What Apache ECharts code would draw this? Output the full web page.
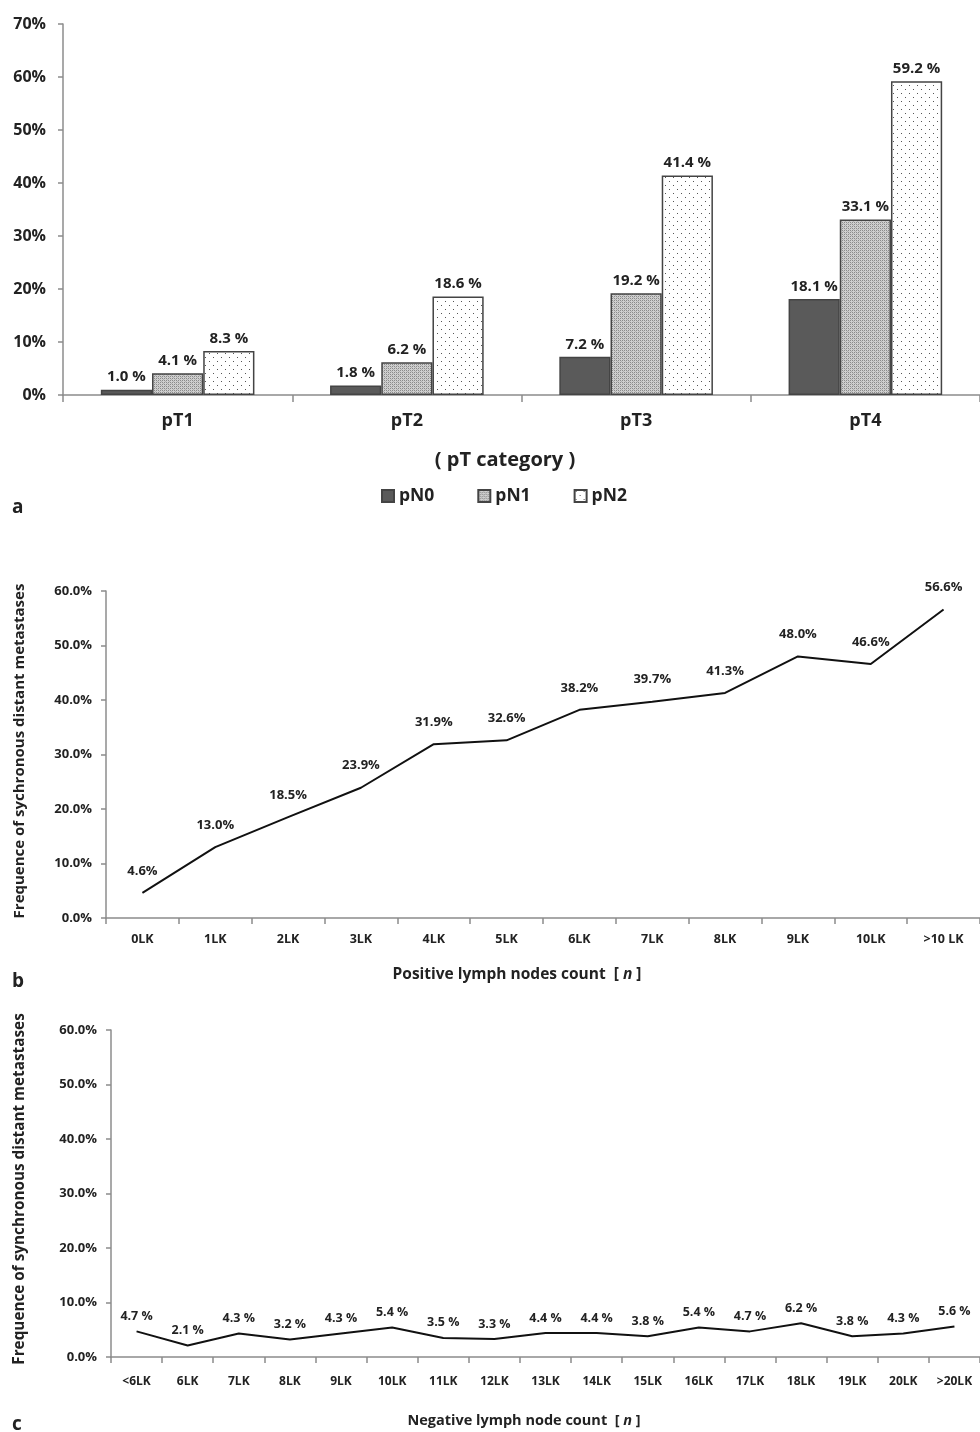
<!DOCTYPE html>
<html><head><meta charset="utf-8">
<script src="https://cdn.jsdelivr.net/npm/echarts@6/dist/echarts.min.js"></script>
<style>html,body{margin:0;padding:0;background:#fff}#c{width:980px;height:1432px}</style>
</head><body><div id="c"></div>
<script>
// ---- data ----
const catsA = ['pT1', 'pT2', 'pT3', 'pT4'];
const pN0 = [1.0, 1.8, 7.2, 18.1];
const pN1 = [4.1, 6.2, 19.2, 33.1];
const pN2 = [8.3, 18.6, 41.4, 59.2];
const ticksA = [0, 10, 20, 30, 40, 50, 60, 70];

const catsB = ['0LK', '1LK', '2LK', '3LK', '4LK', '5LK', '6LK', '7LK', '8LK', '9LK', '10LK', '>10 LK'];
const valsB = [4.6, 13.0, 18.5, 23.9, 31.9, 32.6, 38.2, 39.7, 41.3, 48.0, 46.6, 56.6];

const catsC = ['<6LK', '6LK', '7LK', '8LK', '9LK', '10LK', '11LK', '12LK', '13LK', '14LK', '15LK', '16LK', '17LK', '18LK', '19LK', '20LK', '>20LK'];
const valsC = [4.7, 2.1, 4.3, 3.2, 4.3, 5.4, 3.5, 3.3, 4.4, 4.4, 3.8, 5.4, 4.7, 6.2, 3.8, 4.3, 5.6];

// ---- patterns ----
function patN1() {
  const c = document.createElement('canvas'); c.width = 4; c.height = 4;
  const g = c.getContext('2d');
  g.fillStyle = '#cfcfcf'; g.fillRect(0, 0, 4, 4);
  g.fillStyle = '#8a8a8a';
  g.fillRect(0, 0, 1, 1); g.fillRect(2, 2, 1, 1); g.fillRect(2, 0, 1, 1); g.fillRect(0, 2, 1, 1);
  g.fillStyle = '#b0b0b0'; g.fillRect(1, 1, 1, 1); g.fillRect(3, 3, 1, 1);
  return c;
}
function patN2() {
  const c = document.createElement('canvas'); c.width = 8; c.height = 8;
  const g = c.getContext('2d');
  g.fillStyle = '#ffffff'; g.fillRect(0, 0, 8, 8);
  g.fillStyle = '#555555';
  g.fillRect(1, 1, 1, 1); g.fillRect(5, 5, 1, 1);
  return c;
}

const FONT = '"Open Sans", "Noto Sans", sans-serif';
const TXT = '#222';
const AX = '#8c8c8c';

const chart = echarts.init(document.getElementById('c'), null, {renderer: 'canvas'});

function barSeries(name, data, color) {
  return {
    name, type: 'bar', xAxisIndex: 0, yAxisIndex: 0, data,
    barGap: '0%', barCategoryGap: '33%',
    itemStyle: {color, borderColor: '#444', borderWidth: 1.5},
    label: {show: true, position: 'top', distance: 5, fontFamily: FONT, fontWeight: 'bold', fontSize: 15, color: TXT,
      formatter: p => p.value.toFixed(1) + ' %'}
  };
}

const axisLine = {show: true, lineStyle: {color: AX, width: 1.5}};
const hidden = {color: 'rgba(0,0,0,0)', borderWidth: 0};

chart.setOption({
  animation: false,
  textStyle: {fontFamily: FONT},
  grid: [
    {left: 63, top: 24, width: 917, height: 371},
    {left: 106, top: 591, width: 874, height: 327},
    {left: 111, top: 1030, width: 869, height: 327}
  ],
  xAxis: [
    {gridIndex: 0, type: 'category', data: catsA, axisLine, axisTick: {show: true, length: 7, lineStyle: {color: AX, width: 1.5}},
      axisLabel: {margin: 17, fontFamily: FONT, fontWeight: 'bold', fontSize: 18, color: TXT}},
    {gridIndex: 1, type: 'category', data: catsB, axisLine, axisTick: {show: true, length: 6, lineStyle: {color: AX, width: 1.5}},
      axisLabel: {margin: 15, fontFamily: FONT, fontWeight: 'bold', fontSize: 12.5, color: TXT}},
    {gridIndex: 2, type: 'category', data: catsC, axisLine, axisTick: {show: true, length: 6, lineStyle: {color: AX, width: 1.5}},
      axisLabel: {margin: 19, fontFamily: FONT, fontWeight: 'bold', fontSize: 12, color: TXT, interval: 0}}
  ],
  yAxis: [
    {gridIndex: 0, type: 'value', min: ticksA[0], max: ticksA[ticksA.length - 1], interval: 10, axisLine,
      axisTick: {show: true, length: 5, lineStyle: {color: AX, width: 1.5}}, splitLine: {show: false},
      axisLabel: {margin: 17, fontFamily: FONT, fontWeight: 'bold', fontSize: 16, color: TXT, formatter: v => v + '%'}},
    {gridIndex: 1, type: 'value', min: 0, max: 60, interval: 10, axisLine,
      axisTick: {show: true, length: 5, lineStyle: {color: AX, width: 1.5}}, splitLine: {show: false},
      axisLabel: {margin: 14, fontFamily: FONT, fontWeight: 'bold', fontSize: 13, color: TXT, formatter: v => v.toFixed(1) + '%'}},
    {gridIndex: 2, type: 'value', min: 0, max: 60, interval: 10, axisLine,
      axisTick: {show: true, length: 5, lineStyle: {color: AX, width: 1.5}}, splitLine: {show: false},
      axisLabel: {margin: 14, fontFamily: FONT, fontWeight: 'bold', fontSize: 13, color: TXT, formatter: v => v.toFixed(1) + '%'}}
  ],
  legend: {
    data: ['pN0', 'pN1', 'pN2'], left: 376, top: 482, icon: 'rect', itemWidth: 12, itemHeight: 12, itemGap: 43,
    textStyle: {fontFamily: FONT, fontWeight: 'bold', fontSize: 17.5, color: TXT}
  },
  series: [
    barSeries('pN0', pN0, '#5a5a5a'),
    barSeries('pN1', pN1, {image: patN1(), repeat: 'repeat'}),
    barSeries('pN2', pN2, {image: patN2(), repeat: 'repeat'}),
    {type: 'line', xAxisIndex: 1, yAxisIndex: 1, data: valsB, showSymbol: true, symbol: 'circle', symbolSize: 1,
      itemStyle: hidden, lineStyle: {color: '#111', width: 2},
      label: {show: true, position: 'top', distance: 15, fontFamily: FONT, fontWeight: 'bold', fontSize: 13, color: TXT,
        formatter: p => p.value.toFixed(1) + '%'}},
    {type: 'line', xAxisIndex: 2, yAxisIndex: 2, data: valsC, showSymbol: true, symbol: 'circle', symbolSize: 1,
      itemStyle: hidden, lineStyle: {color: '#111', width: 2},
      label: {show: true, position: 'top', distance: 8, fontFamily: FONT, fontWeight: 'bold', fontSize: 12.5, color: TXT,
        formatter: p => p.value.toFixed(1) + ' %'}}
  ],
  graphic: [
    {type: 'text', x: 505, y: 460, style: {text: '( pT category )', align: 'center', verticalAlign: 'middle', font: 'bold 20px ' + FONT, fill: TXT}},
    {type: 'text', x: 12, y: 508, style: {text: 'a', align: 'left', verticalAlign: 'middle', font: 'bold 19px ' + FONT, fill: TXT}},
    {type: 'text', x: 12, y: 982, style: {text: 'b', align: 'left', verticalAlign: 'middle', font: 'bold 19px ' + FONT, fill: TXT}},
    {type: 'text', x: 12, y: 1425, style: {text: 'c', align: 'left', verticalAlign: 'middle', font: 'bold 19px ' + FONT, fill: TXT}},
    {type: 'text', x: 20, y: 751, rotation: Math.PI / 2,
      style: {text: 'Frequence of sychronous distant metastases', align: 'center', verticalAlign: 'middle', font: 'bold 15px ' + FONT, fill: TXT}},
    {type: 'text', x: 20, y: 1189, rotation: Math.PI / 2,
      style: {text: 'Frequence of synchronous distant metastases', align: 'center', verticalAlign: 'middle', font: 'bold 15.3px ' + FONT, fill: TXT}},
    {type: 'text', x: 517, y: 975, style: {
      text: '{a|Positive lymph nodes count  [ }{i|n}{a| ]}', align: 'center', verticalAlign: 'middle',
      rich: {a: {font: 'bold 15.5px ' + FONT, fill: TXT}, i: {font: 'italic bold 15.5px ' + FONT, fill: TXT}}}},
    {type: 'text', x: 524, y: 1421, style: {
      text: '{a|Negative lymph node count  [ }{i|n}{a| ]}', align: 'center', verticalAlign: 'middle',
      rich: {a: {font: 'bold 14.5px ' + FONT, fill: TXT}, i: {font: 'italic bold 14.5px ' + FONT, fill: TXT}}}}
  ]
});
</script>
</body></html>
